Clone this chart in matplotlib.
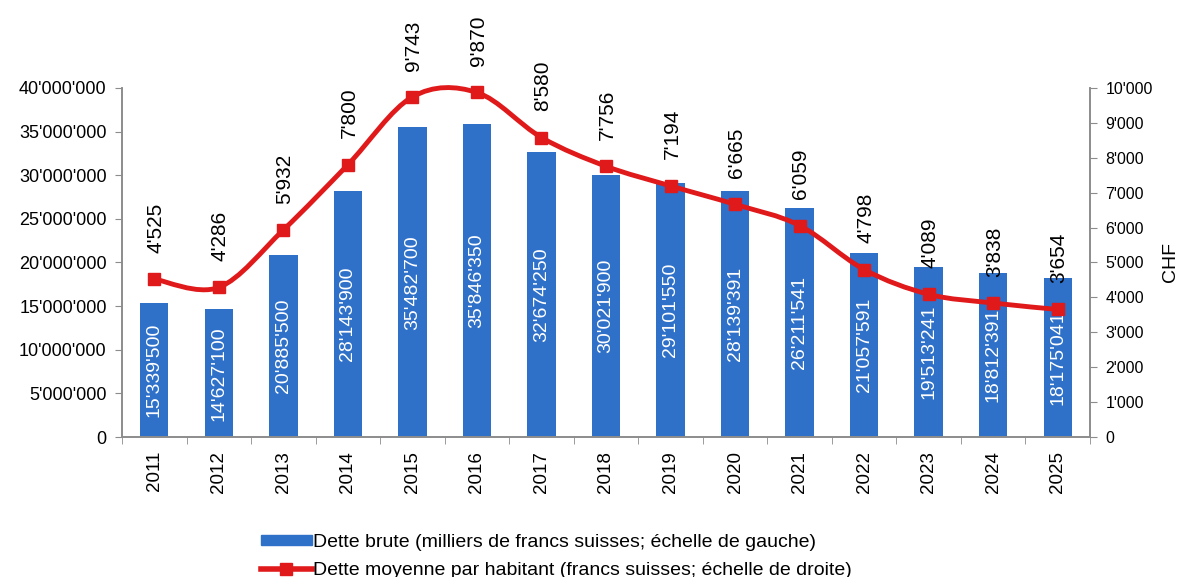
import matplotlib
matplotlib.use("Agg")
import matplotlib.pyplot as plt
from matplotlib.path import Path
from matplotlib.patches import PathPatch, Patch
from matplotlib.lines import Line2D
import numpy as np

plt.rcParams['font.family'] = ['Liberation Sans', 'DejaVu Sans']

years = ['2011', '2012', '2013', '2014', '2015', '2016', '2017', '2018',
         '2019', '2020', '2021', '2022', '2023', '2024', '2025']
dette_brute = [15339500, 14627100, 20885500, 28143900, 35482700, 35846350,
               32674250, 30021900, 29101550, 28139391, 26211541, 21057591,
               19513241, 18812391, 18175041]
dette_habitant = [4525, 4286, 5932, 7800, 9743, 9870, 8580, 7756, 7194,
                  6665, 6059, 4798, 4089, 3838, 3654]

left_ticks = list(range(0, 40000001, 5000000))
right_ticks = list(range(0, 10001, 1000))

BLUE = '#2f70c8'
RED = '#e0191b'
GREY = '#8c8c8c'


def swiss(v):
    return f"{v:,}".replace(',', "'")


def smooth_path(xs, ys):
    # Excel-style smoothed line: cubic bezier through each point
    pts = np.column_stack([xs, ys]).astype(float)
    n = len(pts)
    verts = [pts[0]]
    codes = [Path.MOVETO]
    for i in range(n - 1):
        p0 = pts[i - 1] if i > 0 else pts[i]
        p1 = pts[i]
        p2 = pts[i + 1]
        p3 = pts[i + 2] if i + 2 < n else pts[i + 1]
        c1 = p1 + (p2 - p0) / 6.0
        c2 = p2 - (p3 - p1) / 6.0
        verts += [c1, c2, p2]
        codes += [Path.CURVE4] * 3
    return Path(verts, codes)


fig = plt.figure(figsize=(11.88, 5.77), dpi=100)
ax = fig.add_axes([0.1027, 0.2426, 0.8148, 0.605])
ax2 = ax.twinx()

x = np.arange(len(years))
ax.bar(x, dette_brute, width=0.44, color=BLUE, zorder=2)
for xi, v in zip(x, dette_brute):
    ax.text(xi, v / 2, swiss(v), rotation=90, ha='center', va='center',
            color='white', fontsize=14, zorder=3)

ax.set_xlim(-0.5, len(years) - 0.5)
ax.set_ylim(0, 40000000)
ax.set_yticks(left_ticks)
ax.set_yticklabels([swiss(t) for t in left_ticks], fontsize=13)
ax.set_xticks(x)
ax.set_xticklabels(years, rotation=90, fontsize=13.5)
ax.set_xticks(np.arange(-0.5, len(years), 1.0), minor=True)
ax.tick_params(axis='x', which='major', length=0, pad=10)
ax.tick_params(axis='x', which='minor', length=5, color=GREY, direction='out')
ax.tick_params(axis='y', length=5, color=GREY, direction='out', pad=6)

ax2.set_ylim(0, 10000)
ax2.set_yticks(right_ticks)
ax2.set_yticklabels([swiss(t) for t in right_ticks], fontsize=11.5)
ax2.tick_params(axis='y', length=5, color=GREY, direction='out', pad=6)
ax2.set_ylabel('CHF', fontsize=14, labelpad=7)

for a in (ax, ax2):
    a.spines['top'].set_visible(False)
    for s in ('left', 'right', 'bottom'):
        a.spines[s].set_color(GREY)
        a.spines[s].set_linewidth(1.2)

ax2.add_patch(PathPatch(smooth_path(x, dette_habitant), fill=False,
                        edgecolor=RED, linewidth=3.5, zorder=4, clip_on=False))
ax2.plot(x, dette_habitant, linestyle='none', marker='s', markersize=9,
         color=RED, zorder=5, clip_on=False)
for xi, v in zip(x, dette_habitant):
    ax2.annotate(swiss(v), (xi, v), xytext=(1, 19), textcoords='offset points',
                 rotation=90, ha='center', va='bottom', fontsize=15)

handles = [Patch(facecolor=BLUE, edgecolor=BLUE),
           Line2D([0], [0], color=RED, linewidth=4, marker='s', markersize=8)]
labels = ["Dette brute (milliers de francs suisses; échelle de gauche)",
          "Dette moyenne par habitant (francs suisses; échelle de droite)"]
fig.legend(handles, labels, loc='lower left', bbox_to_anchor=(0.205, -0.033),
           frameon=False, fontsize=14, handlelength=2.6, handleheight=0.4,
           handletextpad=0.05, labelspacing=0.55)

fig.savefig('out.png', dpi=100)
